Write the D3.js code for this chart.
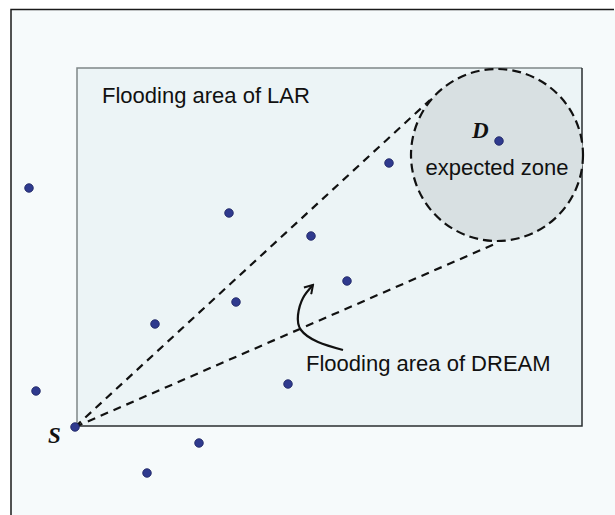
<!DOCTYPE html>
<html>
<head>
<meta charset="utf-8">
<script src="https://cdn.jsdelivr.net/npm/d3@7"></script>
<style>
  body { margin: 0; background: #fff; }
  svg { display: block; }
</style>
</head>
<body>
<svg id="chart" width="615" height="515"></svg>
<script>
// field coordinates: origin at the source S, x to the right, y upwards
var nodeX = [-46, 314, 424, 154, 236, 272, 161, 80, -39, 213, 0, 124, 72];
var nodeY = [239, 264, 286, 214, 191, 146, 125, 103, 36, 43, 0, -16, -46];

var larArea = [2, 1, 507, 359];          // x0, y0, x1, y1 of the LAR flooding area
var zoneCenter = [422, 272];
var zoneRadius = 86;

var floodEndX = [355, 422];               // ends of the DREAM cone, from S
var floodEndY = [327, 184];

var arrowX = [268, 243, 226, 223, 228, 238];
var arrowY = [77, 85, 97, 112, 129, 142];

var labelText = ["Flooding area of LAR", "Flooding area of DREAM", "expected zone"];
var labelX = [27, 231, 422];
var labelY = [324, 56, 252];

var nodeNames = ["S", "D"];
var nodeNameX = [-27, 397];
var nodeNameY = [-16, 289];

var svg = d3.select("#chart");

var x = d3.scaleLinear().domain([0, 506]).range([75, 581]);
var y = d3.scaleLinear().domain([0, 358]).range([427, 69]);

// slide background and frame
svg.append("rect")
  .attr("x", 11).attr("y", 9.5)
  .attr("width", 604).attr("height", 506)
  .attr("fill", "#f6fafb");
svg.append("path")
  .attr("d", "M11,515V9.5H614")
  .attr("fill", "none")
  .attr("stroke", "#1a1a1a")
  .attr("stroke-width", 1.5);

// LAR area
var rx0 = x(larArea[0]), rx1 = x(larArea[2]), ry0 = y(larArea[3]), ry1 = y(larArea[1]);
svg.append("rect")
  .attr("x", rx0).attr("y", ry0)
  .attr("width", rx1 - rx0).attr("height", ry1 - ry0)
  .attr("fill", "#ecf4f6");
svg.append("path")
  .attr("d", "M" + rx0 + "," + ry1 + "V" + ry0 + "H" + rx1)
  .attr("fill", "none").attr("stroke", "#7f8788").attr("stroke-width", 1.5);
svg.append("path")
  .attr("d", "M" + rx0 + "," + ry1 + "H" + rx1 + "V" + ry0)
  .attr("fill", "none").attr("stroke", "#2a2e30").attr("stroke-width", 1.5);

// expected zone
svg.append("circle")
  .attr("cx", x(zoneCenter[0])).attr("cy", y(zoneCenter[1]))
  .attr("r", x(zoneRadius) - x(0))
  .attr("fill", "#d8e0e2")
  .attr("stroke", "#111")
  .attr("stroke-width", 2.2)
  .attr("stroke-dasharray", "9,5");

// DREAM cone
floodEndX.forEach(function(d, i) {
  svg.append("line")
    .attr("x1", x(0)).attr("y1", y(0))
    .attr("x2", x(d)).attr("y2", y(floodEndY[i]))
    .attr("stroke", "#111")
    .attr("stroke-width", 2.2)
    .attr("stroke-dasharray", "8,6");
});

// arrow
svg.append("defs").append("marker")
  .attr("id", "head")
  .attr("viewBox", "-10 -6 12 12")
  .attr("markerWidth", 12).attr("markerHeight", 12)
  .attr("markerUnits", "userSpaceOnUse")
  .attr("orient", "auto")
  .append("path")
  .attr("d", "M-8,-5L0,0L-8,5")
  .attr("fill", "none")
  .attr("stroke", "#111")
  .attr("stroke-width", 2);

var arrowLine = d3.line()
  .x(function(d) { return x(d[0]); })
  .y(function(d) { return y(d[1]); })
  .curve(d3.curveNatural);
svg.append("path")
  .attr("d", arrowLine(arrowX.map(function(d, i) { return [d, arrowY[i]]; })))
  .attr("fill", "none")
  .attr("stroke", "#111")
  .attr("stroke-width", 2.2)
  .attr("marker-end", "url(#head)");

// nodes
svg.selectAll(".node")
  .data(nodeX)
  .enter().append("circle")
  .attr("class", "node")
  .attr("cx", function(d) { return x(d); })
  .attr("cy", function(d, i) { return y(nodeY[i]); })
  .attr("r", 4.3)
  .attr("fill", "#2f3a8e")
  .attr("stroke", "#1b2160")
  .attr("stroke-width", 0.8);

// texts
svg.selectAll(".label")
  .data(labelText)
  .enter().append("text")
  .attr("class", "label")
  .attr("x", function(d, i) { return x(labelX[i]); })
  .attr("y", function(d, i) { return y(labelY[i]); })
  .attr("text-anchor", function(d, i) { return i == 2 ? "middle" : "start"; })
  .attr("font-family", "'Liberation Sans', Arial, sans-serif")
  .attr("font-size", 22)
  .attr("fill", "#111")
  .text(function(d) { return d; });

svg.selectAll(".name")
  .data(nodeNames)
  .enter().append("text")
  .attr("class", "name")
  .attr("x", function(d, i) { return x(nodeNameX[i]); })
  .attr("y", function(d, i) { return y(nodeNameY[i]); })
  .attr("font-family", "'Liberation Serif', 'Times New Roman', serif")
  .attr("font-style", "italic")
  .attr("font-weight", "bold")
  .attr("font-size", 23)
  .attr("fill", "#111")
  .text(function(d) { return d; });
</script>
</body>
</html>
